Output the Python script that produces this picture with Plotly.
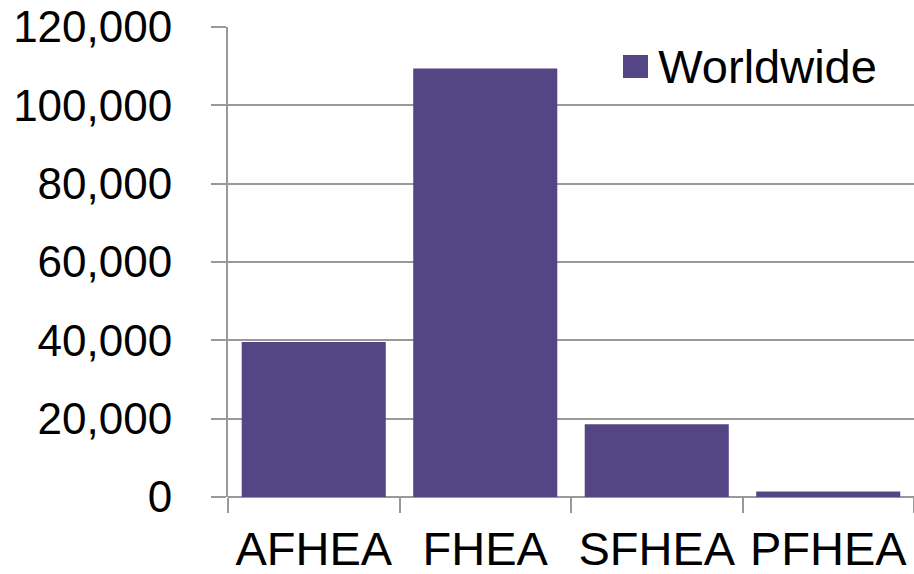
import plotly.graph_objects as go

categories = ["AFHEA", "FHEA", "SFHEA", "PFHEA"]
worldwide = [39600, 109400, 18600, 1400]
y_ticks = [0, 20000, 40000, 60000, 80000, 100000, 120000]

BAR = "#544685"
GRID = "#999999"
FONT = "Liberation Sans, Arial, sans-serif"

fig = go.Figure()
fig.add_trace(go.Bar(
    x=categories, y=worldwide, name="Worldwide",
    marker=dict(color=BAR, line=dict(width=0)),
))

# larger legend swatch (same colour as the legend icon, drawn behind it)
fig.add_shape(
    type="rect", xref="paper", yref="paper",
    x0=(623 - 228) / 686, x1=(648 - 228) / 686,
    y0=(497 - 78) / 470, y1=(497 - 55) / 470,
    fillcolor=BAR, line=dict(width=0), layer="above",
)

fig.update_layout(
    width=914, height=574,
    margin=dict(l=228, r=0, t=27, b=77),
    paper_bgcolor="white", plot_bgcolor="white",
    font=dict(family=FONT, color="black"),
    bargap=0.16,
    showlegend=True,
    legend=dict(
        x=0.569, xanchor="left", y=0.919, yanchor="middle",
        font=dict(size=47, family=FONT, color="black"),
        bgcolor="rgba(0,0,0,0)", borderwidth=0,
    ),
    xaxis=dict(
        type="category", range=[-0.5, 3.5], automargin=False,
        showline=False, showgrid=False,
        ticks="outside", ticklen=15, tickcolor=GRID, tickwidth=2,
        tickson="boundaries",
        tickfont=dict(size=47, family=FONT, color="black"),
        ticklabelstandoff=20,
    ),
    yaxis=dict(
        range=[0, 120000], tickvals=y_ticks, tickformat=",", automargin=False,
        showline=True, linecolor=GRID, linewidth=2,
        showgrid=True, gridcolor=GRID, gridwidth=2,
        zeroline=True, zerolinecolor=GRID, zerolinewidth=2,
        ticks="outside", ticklen=15, tickcolor=GRID, tickwidth=2,
        tickfont=dict(size=44, family=FONT, color="black"),
        ticklabelstandoff=30,
    ),
)

fig.write_html("out.html")
